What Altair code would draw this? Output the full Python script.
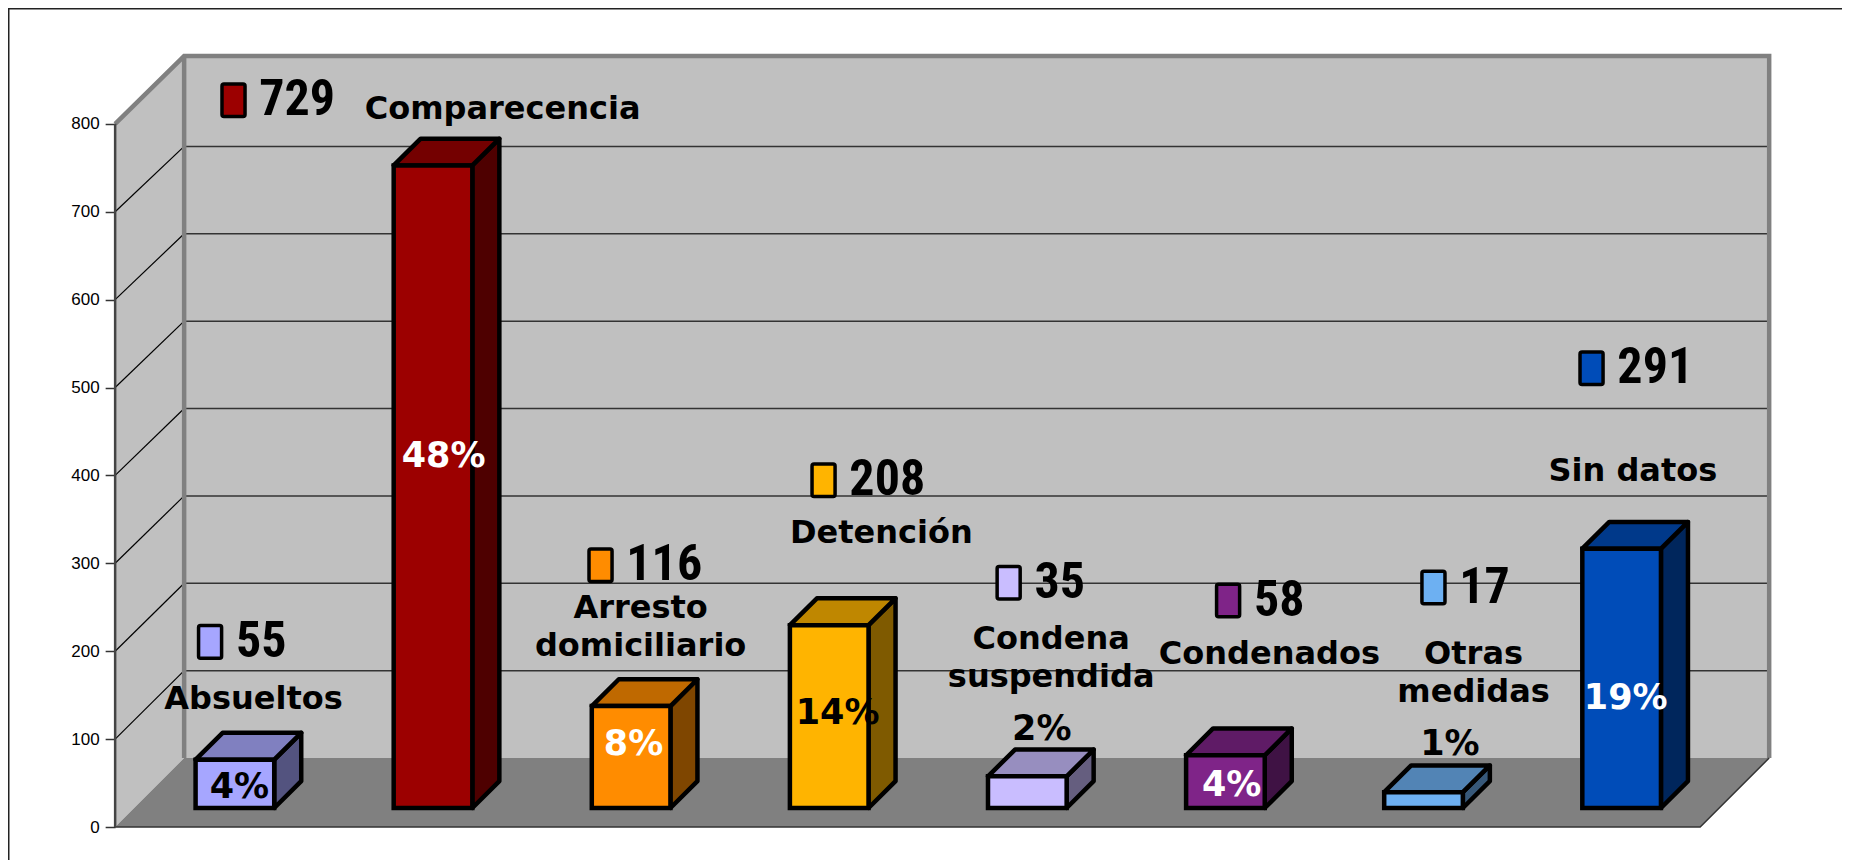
import altair as alt
import pandas as pd

# ---- data ----
categories = ["Absueltos", "Comparecencia", "Arresto domiciliario", "Detención",
              "Condena suspendida", "Condenados", "Otras medidas", "Sin datos"]
values = [55, 729, 116, 208, 35, 58, 17, 291]            # printed numbers
bar_heights = [55, 731, 116, 208, 36, 60, 18, 295]       # heights as drawn
percents = ["4%", "48%", "8%", "14%", "2%", "4%", "1%", "19%"]
tick_values = [0, 100, 200, 300, 400, 500, 600, 700, 800]

# ---- colours ----
front_colors = ["#A6A6FF", "#9C0000", "#FF8C00", "#FFB400", "#C9BDFF", "#7F2488", "#6DB0F2", "#004CB8"]
top_colors = ["#8080C0", "#740000", "#BF6900", "#BF8700", "#978EBF", "#5F1B66", "#5284B5", "#00398A"]
side_colors = ["#53537F", "#4E0000", "#7F4600", "#7F5A00", "#655E7F", "#3F1244", "#375879", "#00265C"]
percent_colors = ["black", "white", "white", "black", "black", "white", "black", "white"]

# ---- annotation anchors, in chart units (category position, value) ----
key_u = [-0.128, -0.010, 1.838, 2.961, 3.893, 4.998, 6.032, 6.828]
key_v = [210.6, 826.7, 297.9, 394.5, 277.8, 257.6, 272.4, 522.0]
pct_u = [0.020, 1.048, 2.004, 3.032, 4.060, 5.016, 6.115, 7.000]
pct_v = [33.5, 409.3, 81.8, 116.7, 99.2, 34.8, 81.8, 134.1]
name_text = ["Absueltos", "Comparecencia", "Arresto", "domiciliario", "Detención", "Condena",
             "suspendida", "Condenados", "Otras", "medidas", "Sin datos"]
name_u = [0.091, 1.345, 2.040, 2.040, 3.252, 4.107, 4.107, 5.206, 6.234, 6.234, 7.036]
name_v = [134.1, 805.2, 237.5, 194.5, 323.4, 202.6, 159.6, 185.1, 185.1, 142.2, 393.2]

# ---- layout ----
W, H = 1834, 852
PX_U, PX_V = 198.6, 0.879          # pixels per category step / per value unit
X0, Y0 = 235.5 - 8, 827 - 8        # position of category 0 / value 0 inside the canvas
U0, U1 = -0.606, 7.375             # floor's front edge
AXIS_LEFT = X0 + U0 * PX_U         # canvas x of the value axis
U_MIN, U_MAX = -X0 / PX_U, (W - X0) / PX_U
V_MAX, V_MIN = Y0 / PX_V, (Y0 - H) / PX_V
xs = alt.Scale(domain=[U0, U_MAX], nice=False, zero=False, padding=0)
ys = alt.Scale(domain=[V_MIN, V_MAX], nice=False, zero=False, padding=0)
FONT_NAME = "DejaVu Sans"
FONT_NUM = "Roboto Condensed, Open Sans Condensed, Noto Sans Condensed, Liberation Sans"
y_axis = alt.Axis(values=tick_values, domain=False, grid=False, title=None,
                  tickSize=10, tickColor="#333333", tickWidth=1.5, labelPadding=6,
                  labelFont="Liberation Sans", labelFontSize=17, labelFontWeight="normal", labelColor="black")
X = lambda f="x": alt.X(f"{f}:Q", scale=xs, axis=None)
Y = lambda f="y": alt.Y(f"{f}:Q", scale=ys, axis=y_axis, title=None)

WDX, WDV = 0.3474, 78.5            # depth of the box at the floor
WALL_TOP = 877                     # back wall's top edge
BACK = 0.994                       # perspective shrink of the back wall's value scale
TOP = 800
STEP, HALF = 0.9975, 0.198         # bar spacing, half bar width
BASE = 21.6                        # bar base above the floor's front edge
BDX, BDV = 0.136, 30.5             # bar depth
EDGE = 4.5

back = pd.DataFrame([{"x": U0 + WDX, "x2": U1 + WDX, "y": WDV, "y2": WALL_TOP}])
layers = [alt.Chart(back).mark_rect(color="#C0C0C0").encode(x=X(), x2="x2:Q", y=Y(), y2="y2:Q")]

# side wall
side_wall = pd.DataFrame({"x": [U0, U0 + WDX], "y": [0, WDV], "y2": [TOP, WALL_TOP]})
layers.append(alt.Chart(side_wall).mark_area(color="#C0C0C0", orient="vertical").encode(
    x=X(), y=Y(), y2="y2:Q"))
# floor
floor = pd.DataFrame({"y": [0, WDV], "x": [U0, U0 + WDX], "x2": [U1, U1 + WDX]})
layers.append(alt.Chart(floor).mark_area(color="#808080", orient="horizontal").encode(
    y=Y(), x=X(), x2="x2:Q"))


def polylines(paths, **mark):
    rows = []
    for g, path in enumerate(paths):
        for o, (u, v) in enumerate(path):
            rows.append({"x": u, "y": v, "g": g, "o": o})
    return alt.Chart(pd.DataFrame(rows)).mark_line(**mark).encode(
        x=X(), y=Y(), detail="g:N", order="o:Q")


grid_values = tick_values[1:-1]
back_v = [WDV + v * BACK for v in grid_values]
layers.append(polylines([[(U0 + WDX, b), (U1 + WDX, b)] for b in back_v],
                        color="#333333", strokeWidth=1.5))
layers.append(polylines([[(U0, v), (U0 + WDX, b)] for v, b in zip(grid_values, back_v)],
                        color="#000000", strokeWidth=1.2))
layers.append(polylines([[(U0, TOP), (U0 + WDX, WALL_TOP), (U1 + WDX, WALL_TOP), (U1 + WDX, WDV)],
                         [(U0 + WDX, WALL_TOP), (U0 + WDX, WDV)]],
                        color="#808080", strokeWidth=4.5))
layers.append(polylines([[(U0, 0), (U1, 0), (U1 + WDX, WDV)]], color="#333333", strokeWidth=1.5))
layers.append(polylines([[(U0, 0), (U0, TOP)]], color="#444444", strokeWidth=2.5))
# page frame
layers.append(polylines([[(U_MIN, V_MIN), (U_MIN, V_MAX), (U_MAX, V_MAX)]], color="#222222", strokeWidth=3))

# bars
side_rows, top_rows, front_rows = [], [], []
for i, val in enumerate(bar_heights):
    l, r = i * STEP - HALF - 0.003, i * STEP + HALF - 0.003
    b, t = BASE, BASE + val
    side_rows += [{"x": r, "y": b, "y2": t, "c": side_colors[i], "i": i},
                  {"x": r + BDX, "y": b + BDV, "y2": t + BDV, "c": side_colors[i], "i": i}]
    top_rows += [{"y": t, "x": l, "x2": r, "c": top_colors[i], "i": i},
                 {"y": t + BDV, "x": l + BDX, "x2": r + BDX, "c": top_colors[i], "i": i}]
    front_rows.append({"x": l, "x2": r, "y": b, "y2": t, "c": front_colors[i], "i": i})

col = alt.Color("c:N", scale=None)
layers.append(alt.Chart(pd.DataFrame(side_rows)).mark_area(
    orient="vertical", stroke="black", strokeWidth=EDGE, strokeJoin="round").encode(
    x=X(), y=Y(), y2="y2:Q", color=col, detail="i:N"))
layers.append(alt.Chart(pd.DataFrame(top_rows)).mark_area(
    orient="horizontal", stroke="black", strokeWidth=EDGE, strokeJoin="round").encode(
    y=Y(), x=X(), x2="x2:Q", color=col, detail="i:N"))
layers.append(alt.Chart(pd.DataFrame(front_rows)).mark_rect(
    stroke="black", strokeWidth=EDGE).encode(
    x=X(), x2="x2:Q", y=Y(), y2="y2:Q", color=col))

# legend-like keys and big numbers
KEY_HU, KEY_HV = 0.058, 18.5
keys = pd.DataFrame({"x": [u - KEY_HU for u in key_u], "x2": [u + KEY_HU for u in key_u],
                     "y": [v - KEY_HV for v in key_v], "y2": [v + KEY_HV for v in key_v],
                     "c": front_colors})
layers.append(alt.Chart(keys).mark_rect(stroke="black", strokeWidth=3.5, cornerRadius=2).encode(
    x=X(), x2="x2:Q", y=Y(), y2="y2:Q", color=col))
numbers = pd.DataFrame({"x": [u + 0.13 for u in key_u], "y": [v - 17 for v in key_v],
                        "t": [str(v) for v in values]})
layers.append(alt.Chart(numbers).mark_text(
    align="left", baseline="alphabetic", font=FONT_NUM, fontWeight="bold", fontSize=50, color="black").encode(
    x=X(), y=Y(), text="t:N"))
names = pd.DataFrame({"x": name_u, "y": name_v, "t": name_text})
layers.append(alt.Chart(names).mark_text(
    align="center", baseline="alphabetic", font=FONT_NAME, fontWeight="bold", fontSize=32, color="black").encode(
    x=X(), y=Y(), text="t:N"))
pct = pd.DataFrame({"x": pct_u, "y": pct_v, "t": percents, "c": percent_colors})
layers.append(alt.Chart(pct).mark_text(
    align="center", baseline="alphabetic", font=FONT_NAME, fontWeight="bold", fontSize=35).encode(
    x=X(), y=Y(), text="t:N", color=col))

chart = alt.layer(*layers).properties(
    width=W - AXIS_LEFT, height=H, background="white",
    autosize=alt.AutoSizeParams(type="none"),
    padding={"left": AXIS_LEFT, "top": 0, "right": 0, "bottom": 0},
).configure_view(stroke=None)
chart.save("out.html", embed_options={"renderer": "svg", "actions": False})
